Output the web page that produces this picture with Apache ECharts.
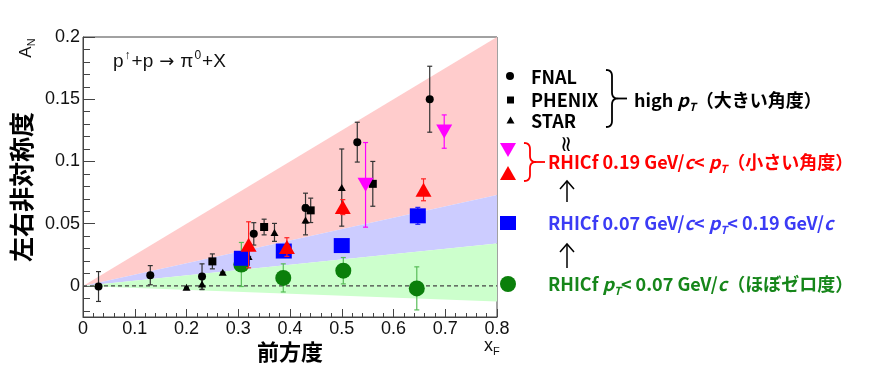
<!DOCTYPE html>
<html><head><meta charset="utf-8">
<script src="https://cdn.jsdelivr.net/npm/echarts@6/dist/echarts.min.js"></script>
<style>html,body{margin:0;padding:0;background:#fff}#c{width:874px;height:379px}</style>
</head><body><div id="c"></div>
<script>
// ---- data ----
const fnalX   = [0.03, 0.13, 0.23, 0.33, 0.43, 0.53, 0.67];
const fnalY   = [-0.0005, 0.0086, 0.0075, 0.0418, 0.0625, 0.1155, 0.150];
const fnalErr = [0.012, 0.0077, 0.0102, 0.009, 0.012, 0.016, 0.0265];

const phenixX   = [0.25, 0.35, 0.44, 0.56];
const phenixY   = [0.0197, 0.0473, 0.0607, 0.0820];
const phenixErr = [0.006, 0.0063, 0.0098, 0.018];

const starX   = [0.20, 0.23, 0.27, 0.32, 0.37, 0.43, 0.50];
const starY   = [-0.001, 0.0015, 0.011, 0.0236, 0.0430, 0.0530, 0.0790];
const starErr = [0.0, 0.0045, 0.0, 0.0, 0.0072, 0.012, 0.031];

const rhicfHighX   = [0.32, 0.394, 0.502, 0.658];
const rhicfHighY   = [0.0330, 0.0312, 0.0633, 0.0772];
const rhicfHighErr = [0.0185, 0.0075, 0.006, 0.0088];

const rhicfHighDownX   = [0.546, 0.698];
const rhicfHighDownY   = [0.0812, 0.1240];
const rhicfHighDownErr = [0.034, 0.0134];

const rhicfMidX   = [0.307, 0.388, 0.500, 0.647];
const rhicfMidY   = [0.0222, 0.0280, 0.0324, 0.0563];
const rhicfMidErr = [0.002, 0.002, 0.002, 0.0068];

const rhicfLowX   = [0.306, 0.387, 0.503, 0.645];
const rhicfLowY   = [0.0172, 0.0064, 0.0122, -0.0020];
const rhicfLowErr = [0.0177, 0.0113, 0.0106, 0.0173];

// shaded bands: edges at x = 0 and x = 0.8
const bandX       = [0, 0.8];
const pinkTop     = [0, 0.200];
const blueTop     = [0, 0.073];
const greenTop    = [0, 0.034];
const greenBottom = [0, -0.0125];

const zeroLineX = [0, 0.8];
const zeroLineY = [0, 0];

const xTickValues = [0, 0.1, 0.2, 0.3, 0.4, 0.5, 0.6, 0.7, 0.8];
const xTickLabels = ['0', '0.1', '0.2', '0.3', '0.4', '0.5', '0.6', '0.7', '0.8'];
const yTickValues = [0, 0.05, 0.1, 0.15, 0.2];
const yTickLabels = ['0', '0.05', '0.1', '0.15', '0.2'];
const yMinorTicks = [-0.02, -0.01, 0.01, 0.02, 0.03, 0.04, 0.06, 0.07, 0.08, 0.09,
                     0.11, 0.12, 0.13, 0.14, 0.16, 0.17, 0.18, 0.19];

// ---- helpers ----
const zip2 = (a, b) => a.map((v, i) => [v, b[i]]);
const zip3 = (a, b, c) => a.map((v, i) => [v, b[i], c[i]]);
const FONT = "'Liberation Sans', Arial, sans-serif";
const JFONT = "'Noto Sans CJK JP', 'Noto Sans', sans-serif";

function bandSeries(top, bottom, color) {
  return {
    type: 'custom', silent: true, z: 1,
    data: [[bandX[0], top[0]]],
    renderItem: function (params, api) {
      const pts = [
        api.coord([bandX[0], top[0]]), api.coord([bandX[1], top[1]]),
        api.coord([bandX[1], bottom[1]]), api.coord([bandX[0], bottom[0]])
      ];
      return { type: 'polygon', shape: { points: pts }, style: { fill: color } };
    }
  };
}

function errSeries(xs, ys, es, color, cap, z) {
  return {
    type: 'custom', silent: true, z: z,
    data: zip3(xs, ys, es),
    renderItem: function (params, api) {
      const x = api.value(0), y = api.value(1), e = api.value(2);
      const lo = api.coord([x, y - e]), hi = api.coord([x, y + e]);
      const st = { stroke: color, lineWidth: 1.2 };
      return { type: 'group', children: [
        { type: 'line', shape: { x1: lo[0], y1: lo[1], x2: hi[0], y2: hi[1] }, style: st },
        { type: 'line', shape: { x1: lo[0] - cap, y1: lo[1], x2: lo[0] + cap, y2: lo[1] }, style: st },
        { type: 'line', shape: { x1: hi[0] - cap, y1: hi[1], x2: hi[0] + cap, y2: hi[1] }, style: st }
      ]};
    }
  };
}

function markSeries(xs, ys, symbol, size, color, z, rotate) {
  return {
    type: 'scatter', silent: true, z: z,
    data: zip2(xs, ys), symbol: symbol, symbolSize: size, symbolRotate: rotate || 0,
    itemStyle: { color: color, opacity: 1 }
  };
}

function richSet(color, size) {
  return {
    i: { fontFamily: JFONT, fontWeight: 'bold', fontStyle: 'italic', fontSize: size, fill: color },
    sub: { fontFamily: JFONT, fontWeight: 'bold', fontStyle: 'italic', fontSize: 11, fill: color, padding: [14, 0, 0, 0] }
  };
}

function legText(x, y, text, color) {
  return { type: 'text', x: x, y: y, z: 100,
    style: { text: text, fontFamily: JFONT, fontWeight: 'bold', fontSize: 18, fill: color,
      align: 'left', verticalAlign: 'middle', rich: richSet(color, 18) } };
}

// quadratic bezier sampled into polyline points
function quad(p0, c, p1, n) {
  const out = [];
  for (let k = 0; k <= n; k++) {
    const t = k / n, a = (1 - t) * (1 - t), b = 2 * (1 - t) * t, d = t * t;
    out.push([a * p0[0] + b * c[0] + d * p1[0], a * p0[1] + b * c[1] + d * p1[1]]);
  }
  return out;
}
function brace(x0, y0, y1, w, color) {
  const ym = (y0 + y1) / 2, xb = x0 + w, xt = x0 + 2 * w;
  const pts = [].concat(
    quad([x0, y0], [xb, y0], [xb, y0 + w], 6),
    quad([xb, ym - w], [xb, ym], [xt, ym], 6),
    quad([xt, ym], [xb, ym], [xb, ym + w], 6),
    quad([xb, y1 - w], [xb, y1], [x0, y1], 6)
  );
  return { type: 'polyline', z: 100, shape: { points: pts }, style: { stroke: color, fill: null, lineWidth: 1.8 } };
}
function lineEl(x1, y1, x2, y2, color, w) {
  return { type: 'line', z: 100, shape: { x1: x1, y1: y1, x2: x2, y2: y2 }, style: { stroke: color, lineWidth: w } };
}
function arrowUp(x, yTop, yBot) {
  return [
    lineEl(x, yBot, x, yTop, '#000', 1.5),
    { type: 'polyline', z: 100, shape: { points: [[x - 7, yTop + 8], [x, yTop], [x + 7, yTop + 8]] }, style: { stroke: '#000', fill: null, lineWidth: 1.5 } }
  ];
}

const chart = echarts.init(document.getElementById('c'), null, { renderer: 'canvas' });

const graphics = [
  // axis titles
  { type: 'text', x: 26, y: 48, rotation: Math.PI / 2, z: 100,
    style: { text: 'A{s|N}', fontFamily: FONT, fontSize: 17, fill: '#111', align: 'center', verticalAlign: 'middle',
      rich: { s: { fontFamily: FONT, fontSize: 11, fill: '#111', padding: [12, 0, 0, 0] } } } },
  { type: 'text', x: 21, y: 187, rotation: Math.PI / 2, z: 100,
    style: { text: '左右非対称度', fontFamily: JFONT, fontWeight: 'bold', fontSize: 25, fill: '#000', align: 'center', verticalAlign: 'middle' } },
  { type: 'text', x: 290, y: 352, z: 100,
    style: { text: '前方度', fontFamily: JFONT, fontWeight: 'bold', fontSize: 22, fill: '#000', align: 'center', verticalAlign: 'middle' } },
  { type: 'text', x: 484, y: 346, z: 100,
    style: { text: 'x{s|F}', fontFamily: FONT, fontSize: 18, fill: '#111', align: 'left', verticalAlign: 'middle',
      rich: { s: { fontFamily: FONT, fontSize: 11, fill: '#111', padding: [12, 0, 0, 0] } } } },
  // reaction annotation
  { type: 'text', x: 113, y: 62, z: 100,
    style: { text: 'p{u|↑}+p{a|→}π{u|0}+X', fontFamily: FONT, fontSize: 19, fill: '#111', align: 'left', verticalAlign: 'middle',
      rich: {
        u: { fontFamily: FONT, fontSize: 12, fill: '#111', padding: [0, 1, 12, 1] },
        a: { fontFamily: "'DejaVu Sans', sans-serif", fontSize: 18, fill: '#111', padding: [0, 6, 0, 6] }
      } } },

  // legend markers
  { type: 'circle', z: 100, shape: { cx: 510, cy: 76, r: 4 }, style: { fill: '#000' } },
  { type: 'rect', z: 100, shape: { x: 507, y: 96.5, width: 7, height: 7 }, style: { fill: '#000' } },
  { type: 'polygon', z: 100, shape: { points: [[510.5, 116.5], [514.5, 123.5], [506.5, 123.5]] }, style: { fill: '#000' } },
  { type: 'polygon', z: 100, shape: { points: [[500, 143], [516, 143], [508, 157]] }, style: { fill: '#ff00ff' } },
  { type: 'polygon', z: 100, shape: { points: [[508, 166], [516, 180], [500, 180]] }, style: { fill: '#ff0000' } },
  { type: 'rect', z: 100, shape: { x: 500, y: 216, width: 16, height: 14 }, style: { fill: '#0000ff' } },
  { type: 'circle', z: 100, shape: { cx: 508, cy: 284, r: 8 }, style: { fill: '#0b7f0b' } },

  // legend texts
  legText(531, 77, 'FNAL', '#000'),
  legText(531, 100, 'PHENIX', '#000'),
  legText(531, 121, 'STAR', '#000'),
  legText(634, 100, 'high {i|p}{sub|T}（大きい角度）', '#000'),
  legText(548, 162, 'RHICf 0.19 GeV/{i|c}< {i|p}{sub|T}（小さい角度）', '#ff0000'),
  legText(548, 223, 'RHICf 0.07 GeV/{i|c}< {i|p}{sub|T}< 0.19 GeV/{i|c}', '#3b3bf5'),
  legText(548, 284, 'RHICf {i|p}{sub|T}< 0.07 GeV/{i|c}（ほぼゼロ度）', '#16861a'),

  // braces
  brace(606, 70, 127, 6, '#000'),
  lineEl(618, 98.5, 627, 98.5, '#000', 1.8),
  brace(524, 143, 181, 6, '#ff0000'),
  lineEl(536, 162, 545, 162, '#ff0000', 1.8),
  // wavy break sign
  { type: 'text', x: 567, y: 144, rotation: Math.PI / 2, z: 100,
    style: { text: '≈', fontFamily: "'DejaVu Sans', sans-serif", fontSize: 22, fill: '#000', align: 'center', verticalAlign: 'middle' } }
].concat(arrowUp(567, 181, 202), arrowUp(567, 244, 268));

const option = {
  animation: false,
  backgroundColor: '#fff',
  grid: { left: 83, top: 37, width: 414, height: 280, show: true, borderColor: '#444', borderWidth: 1, backgroundColor: 'transparent', containLabel: false },
  xAxis: {
    type: 'value', min: 0, max: 0.8, interval: 0.1,
    axisLine: { show: true, onZero: false, lineStyle: { color: '#444', width: 1 } },
    axisTick: { show: true, inside: true, length: 8, lineStyle: { color: '#444' } },
    minorTick: { show: true, splitNumber: 5, length: 4, lineStyle: { color: '#444' } },
    splitLine: { show: false }, minorSplitLine: { show: false },
    axisLabel: { margin: 3, fontSize: 18, fontFamily: FONT, color: '#111',
      formatter: v => { const k = xTickValues.findIndex(t => Math.abs(t - v) < 1e-6); return k >= 0 ? xTickLabels[k] : ''; } }
  },
  yAxis: [{
    type: 'value', min: -0.025, max: 0.2,
    axisLine: { show: true, onZero: false, lineStyle: { color: '#444', width: 1 } },
    axisTick: { show: true, inside: true, length: 12, customValues: yTickValues, lineStyle: { color: '#444' } },
    splitLine: { show: false },
    axisLabel: { margin: 3, fontSize: 18, fontFamily: FONT, color: '#111', customValues: yTickValues,
      formatter: v => { const k = yTickValues.findIndex(t => Math.abs(t - v) < 1e-6); return k >= 0 ? yTickLabels[k] : ''; } }
  }, {
    type: 'value', min: -0.025, max: 0.2, position: 'left', offset: 0,
    axisLine: { show: false },
    axisTick: { show: true, inside: true, length: 7, customValues: yMinorTicks, lineStyle: { color: '#444' } },
    axisLabel: { show: false }, splitLine: { show: false }
  }],
  series: [
    bandSeries(pinkTop, blueTop, '#ffcccc'),
    bandSeries(blueTop, greenTop, '#ccccff'),
    bandSeries(greenTop, greenBottom, '#ccffcc'),
    { type: 'line', silent: true, z: 2, data: zip2(zeroLineX, zeroLineY), symbol: 'none',
      lineStyle: { color: '#444', width: 1.2, type: [4, 3] } },

    errSeries(fnalX, fnalY, fnalErr, '#333', 2.5, 3),
    errSeries(phenixX, phenixY, phenixErr, '#333', 2.5, 3),
    errSeries(starX, starY, starErr, '#333', 2.5, 3),
    markSeries(fnalX, fnalY, 'circle', 8, '#000', 4),
    markSeries(phenixX, phenixY, 'rect', 8, '#000', 4),
    markSeries(starX, starY, 'triangle', [8, 7], '#000', 4),

    errSeries(rhicfLowX, rhicfLowY, rhicfLowErr, '#58bd58', 2.5, 5),
    markSeries(rhicfLowX, rhicfLowY, 'circle', 16, '#0b7f0b', 6),
    errSeries(rhicfMidX, rhicfMidY, rhicfMidErr, '#2020ff', 2.5, 7),
    markSeries(rhicfMidX, rhicfMidY, 'rect', [16, 15], '#0000ff', 8),
    errSeries(rhicfHighX, rhicfHighY, rhicfHighErr, '#ff2020', 2.5, 9),
    markSeries(rhicfHighX, rhicfHighY, 'triangle', [16, 14], '#ff0000', 10),
    errSeries(rhicfHighDownX, rhicfHighDownY, rhicfHighDownErr, '#ff00ff', 2.5, 9),
    markSeries(rhicfHighDownX, rhicfHighDownY, 'triangle', [16, 14], '#ff00ff', 10, 180)
  ],
  graphic: graphics
};
chart.setOption(option);
</script></body></html>
